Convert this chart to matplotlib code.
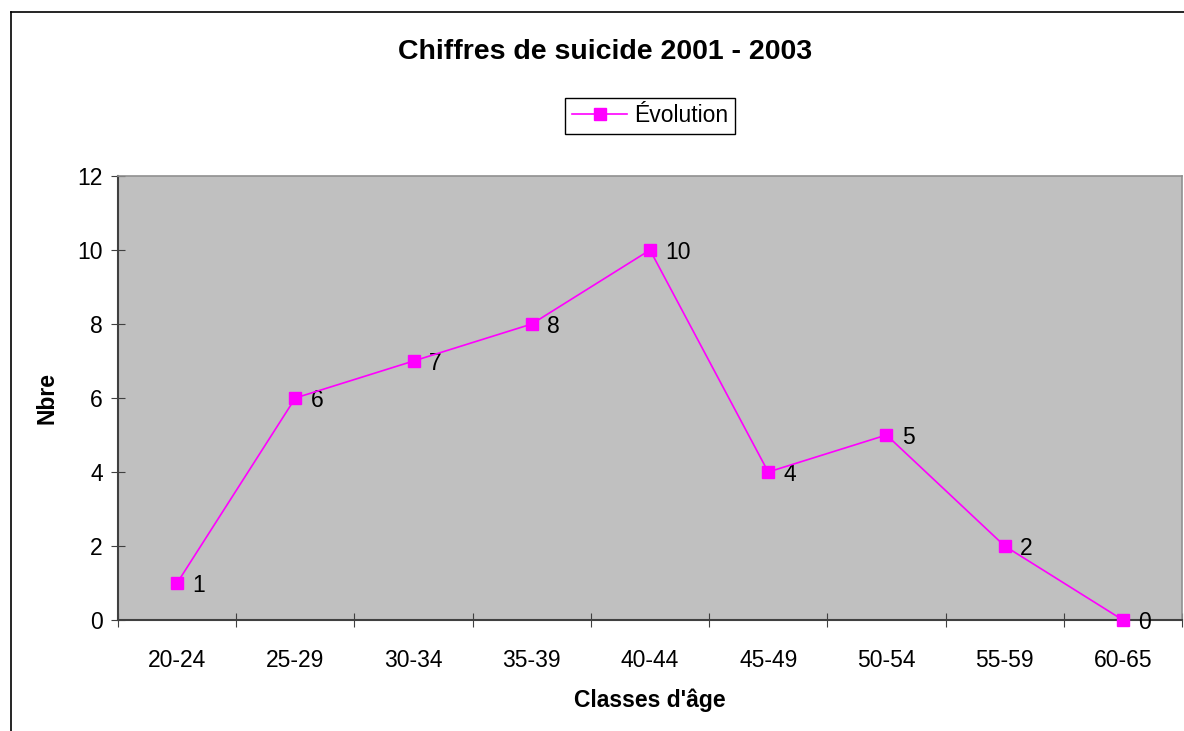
import matplotlib
matplotlib.use('Agg')
import matplotlib.pyplot as plt
from matplotlib.lines import Line2D

plt.rcParams['font.family'] = ['Liberation Sans', 'DejaVu Sans']

# data
ages = ['20-24', '25-29', '30-34', '35-39', '40-44', '45-49', '50-54', '55-59', '60-65']
nbre = [1, 6, 7, 8, 10, 4, 5, 2, 0]
yticks = [0, 2, 4, 6, 8, 10, 12]

fig = plt.figure(figsize=(11.84, 7.31), dpi=100)
W, H = 1184, 731
# plot area in pixels: left 118, right 1182, top 176, bottom 620
ax = fig.add_axes([118 / W, 1 - 620 / H, (1182 - 118) / W, (620 - 176) / H])
ax.set_facecolor('#C0C0C0')

# chart frame (only left and top visible in the reference)
fig.add_artist(Line2D([11 / W, 11 / W], [0, 1 - 12 / H], transform=fig.transFigure, color='black', lw=1.2))
fig.add_artist(Line2D([11 / W, 1], [1 - 12 / H, 1 - 12 / H], transform=fig.transFigure, color='black', lw=1.2))

fs = 16.5
x = list(range(len(ages)))
line, = ax.plot(x, nbre, color='#FF00FF', lw=1.2, marker='s', markersize=8,
                markerfacecolor='#FF00FF', markeredgecolor='#FF00FF', label='Évolution',
                clip_on=False, zorder=5)
for xi, v in zip(x, nbre):
    ax.annotate(str(v), (xi, v), xytext=(11, -2), textcoords='offset points',
                ha='left', va='center', fontsize=fs)

ax.set_xlim(-0.5, len(ages) - 0.5)
ax.set_ylim(0, 12)
ax.set_yticks(yticks)
ax.set_xticks([i + 0.5 for i in range(-1, len(ages))], minor=False)
ax.set_xticklabels([])
ax.set_xticks(x, minor=True)
ax.set_xticklabels(ages, minor=True, fontsize=fs)
ax.tick_params(axis='x', which='major', direction='inout', length=10, color='#404040')
ax.tick_params(axis='x', which='minor', length=0, pad=21)
ax.tick_params(axis='y', direction='inout', length=10, color='#404040', labelsize=fs, pad=6)

for s in ['left', 'bottom']:
    ax.spines[s].set_color('#404040')
    ax.spines[s].set_linewidth(1.5)
for s in ['top', 'right']:
    ax.spines[s].set_color('#909090')
    ax.spines[s].set_linewidth(1.2)

ax.set_ylabel('Nbre', fontsize=fs, fontweight='bold', va='center')
ax.yaxis.set_label_coords((47 - 118) / 1064, (620 - 398) / 444)
ax.set_xlabel("Classes d'âge", fontsize=fs, fontweight='bold', va='center')
ax.xaxis.set_label_coords((650 - 118) / 1064, (620 - 700) / 444)
fig.text(605 / W, 1 - 52 / H, 'Chiffres de suicide 2001 - 2003', ha='center', va='center',
         fontsize=20.5, fontweight='bold')

leg = fig.legend(handles=[line], loc='center', bbox_to_anchor=((567 + 733) / 2 / W, 1 - 116 / H),
                 fontsize=fs, frameon=True, fancybox=False, edgecolor='black', framealpha=1,
                 handlelength=2.4, borderpad=0.3, handletextpad=0.3, borderaxespad=0)
leg.get_frame().set_linewidth(1.0)

fig.savefig('out.png', dpi=100)
